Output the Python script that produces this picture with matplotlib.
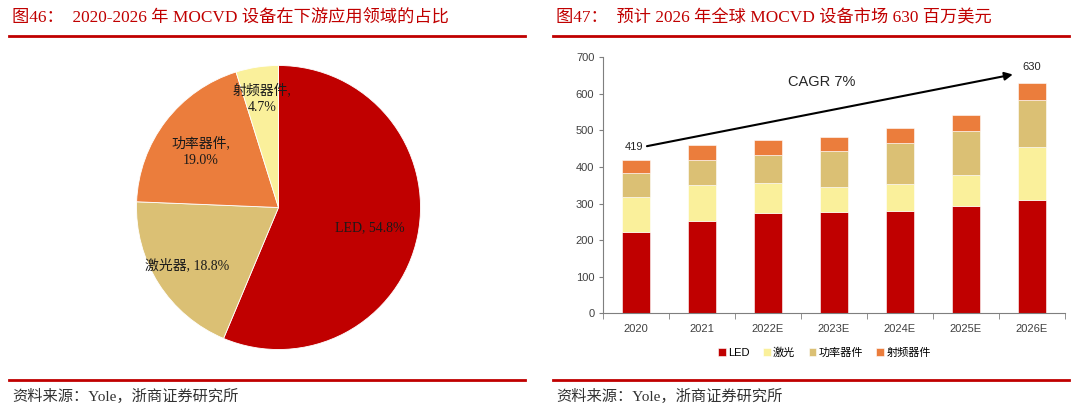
import matplotlib
matplotlib.use("Agg")
import matplotlib.pyplot as plt
import numpy as np
from matplotlib.lines import Line2D

# ============================================================================
# Data
# ============================================================================

PIE_LABELS = ["LED", "激光器", "功率器件", "射频器件"]
PIE_VALUES = [54.8, 18.8, 19.0, 4.7]

YEARS = ["2020", "2021", "2022E", "2023E", "2024E", "2025E", "2026E"]
LED = [222, 253, 274, 277, 279, 293, 311]
LASER = [95, 98, 83, 69, 75, 86, 144]
POWER = [68, 68, 75, 97, 112, 119, 129]
RF = [34, 40, 41, 40, 42, 43, 46]
SERIES_NAMES = ["LED", "激光", "功率器件", "射频器件"]

TOTAL_START = 419
TOTAL_END = 630
CAGR_TEXT = "CAGR 7%"

TITLE_LEFT = "图46：  2020-2026 年 MOCVD 设备在下游应用领域的占比"
TITLE_RIGHT = "图47：  预计 2026 年全球 MOCVD 设备市场 630 百万美元"
SOURCE = "资料来源：Yole，浙商证券研究所"

# ============================================================================
# Styles
# ============================================================================

RED = "#C00000"
TAN = "#DBC074"
ORANGE = "#EB7D3C"
LIGHT_YELLOW = "#FAF09B"
PIE_COLORS = [RED, TAN, ORANGE, LIGHT_YELLOW]
BAR_COLORS = [RED, LIGHT_YELLOW, TAN, ORANGE]

SERIF = ["Liberation Serif", "Noto Sans CJK SC", "DejaVu Sans"]
SANS = ["Liberation Sans", "Noto Sans CJK SC", "DejaVu Sans"]
TICK_COLOR = "#404040"

W, H = 1080, 412
fig = plt.figure(figsize=(W / 100, H / 100), dpi=100)


def px(x0, y0, x1, y1):
    """Pixel box (top-left origin) -> figure fraction rect."""
    return [x0 / W, 1 - y1 / H, (x1 - x0) / W, (y1 - y0) / H]


# ---- frame: titles, rules, sources ----
for x0, x1, title in [(9, 525, TITLE_LEFT), (553, 1069, TITLE_RIGHT)]:
    fig.add_artist(Line2D([x0 / W, x1 / W], [1 - 35.7 / H] * 2,
                          color=RED, linewidth=2.0))
    fig.add_artist(Line2D([x0 / W, x1 / W], [1 - 379.5 / H] * 2,
                          color=RED, linewidth=2.0))
    fig.text((x0 + 3) / W, 1 - 18 / H, title, color=RED, fontsize=12.4,
             family=SERIF, va="center", ha="left")
    fig.text((x0 + 3) / W, 1 - 396 / H, SOURCE, color="#333333", fontsize=11,
             family=SERIF, va="center", ha="left")

# ============================================================================
# Pie
# ============================================================================

cx, cy, r = 278.5, 207.5, 142
pie_ax = fig.add_axes(px(cx - r, cy - r, cx + r, cy + r))
pie_ax.pie(PIE_VALUES, colors=PIE_COLORS, startangle=90, counterclock=False,
           radius=1.0, wedgeprops=dict(linewidth=0.6, edgecolor="white"))
pie_ax.set_xlim(-1, 1)
pie_ax.set_ylim(-1, 1)

label_pos = [(0.644, -0.139), (-0.646, -0.41), (-0.548, 0.393), (-0.118, 0.769)]
label_fmt = ["{}, {:.1f}%", "{}, {:.1f}%", "{},\n{:.1f}%", "{},\n{:.1f}%"]
for name, val, (lx, ly), fmt in zip(PIE_LABELS, PIE_VALUES, label_pos, label_fmt):
    pie_ax.text(lx, ly, fmt.format(name, val), ha="center", va="center",
                fontsize=10, family=SERIF, color="#1a1a1a", linespacing=1.4)

# ============================================================================
# Stacked bars
# ============================================================================

bar_ax = fig.add_axes(px(602.7, 57.3, 1065, 313.3))
x = np.arange(len(YEARS))
bottom = np.zeros(len(YEARS))
for name, vals, color in zip(SERIES_NAMES, [LED, LASER, POWER, RF], BAR_COLORS):
    bar_ax.bar(x, vals, width=0.42, bottom=bottom, color=color, label=name,
               edgecolor="white", linewidth=0.4)
    bottom += np.array(vals)

bar_ax.set_xlim(-0.5, len(YEARS) - 0.5)
bar_ax.set_ylim(0, 700)
bar_ax.set_yticks(np.arange(0, 701, 100))
bar_ax.set_xticks(x)
bar_ax.set_xticklabels(YEARS)
bar_ax.set_xticks(np.arange(-0.5, len(YEARS)), minor=True)
bar_ax.tick_params(axis="x", which="major", length=0, pad=8,
                   labelsize=8, labelcolor=TICK_COLOR)
bar_ax.tick_params(axis="x", which="minor", length=4, color="#7f7f7f")
bar_ax.tick_params(axis="y", length=3, color="#7f7f7f", labelsize=8,
                   labelcolor=TICK_COLOR, pad=3)
for lab in bar_ax.get_xticklabels() + bar_ax.get_yticklabels():
    lab.set_family(SANS)
for side in ["top", "right"]:
    bar_ax.spines[side].set_visible(False)
for side in ["left", "bottom"]:
    bar_ax.spines[side].set_color("#7f7f7f")
    bar_ax.spines[side].set_linewidth(0.8)

# growth arrow
bar_ax.annotate("", xy=(5.71, 653), xytext=(0.17, 457),
                arrowprops=dict(arrowstyle="-|>", color="black", lw=1.5,
                                mutation_scale=12, shrinkA=0, shrinkB=0))
bar_ax.text(-0.02, 455, str(TOTAL_START), ha="center", va="center",
            fontsize=8, family=SANS, color="#262626")
bar_ax.text(6.0, 674, str(TOTAL_END), ha="center", va="center",
            fontsize=8, family=SANS, color="#262626")
bar_ax.text(2.81, 632, CAGR_TEXT, ha="center", va="center",
            fontsize=10.5, family=SANS, color="#262626")

bar_ax.legend(loc="center", bbox_to_anchor=(0.48, -0.152), ncol=4,
              frameon=False, handlelength=0.7, handleheight=0.7,
              handletextpad=0.2, columnspacing=1.2, prop={"family": SANS, "size": 8})

fig.savefig("out.png", dpi=100)
